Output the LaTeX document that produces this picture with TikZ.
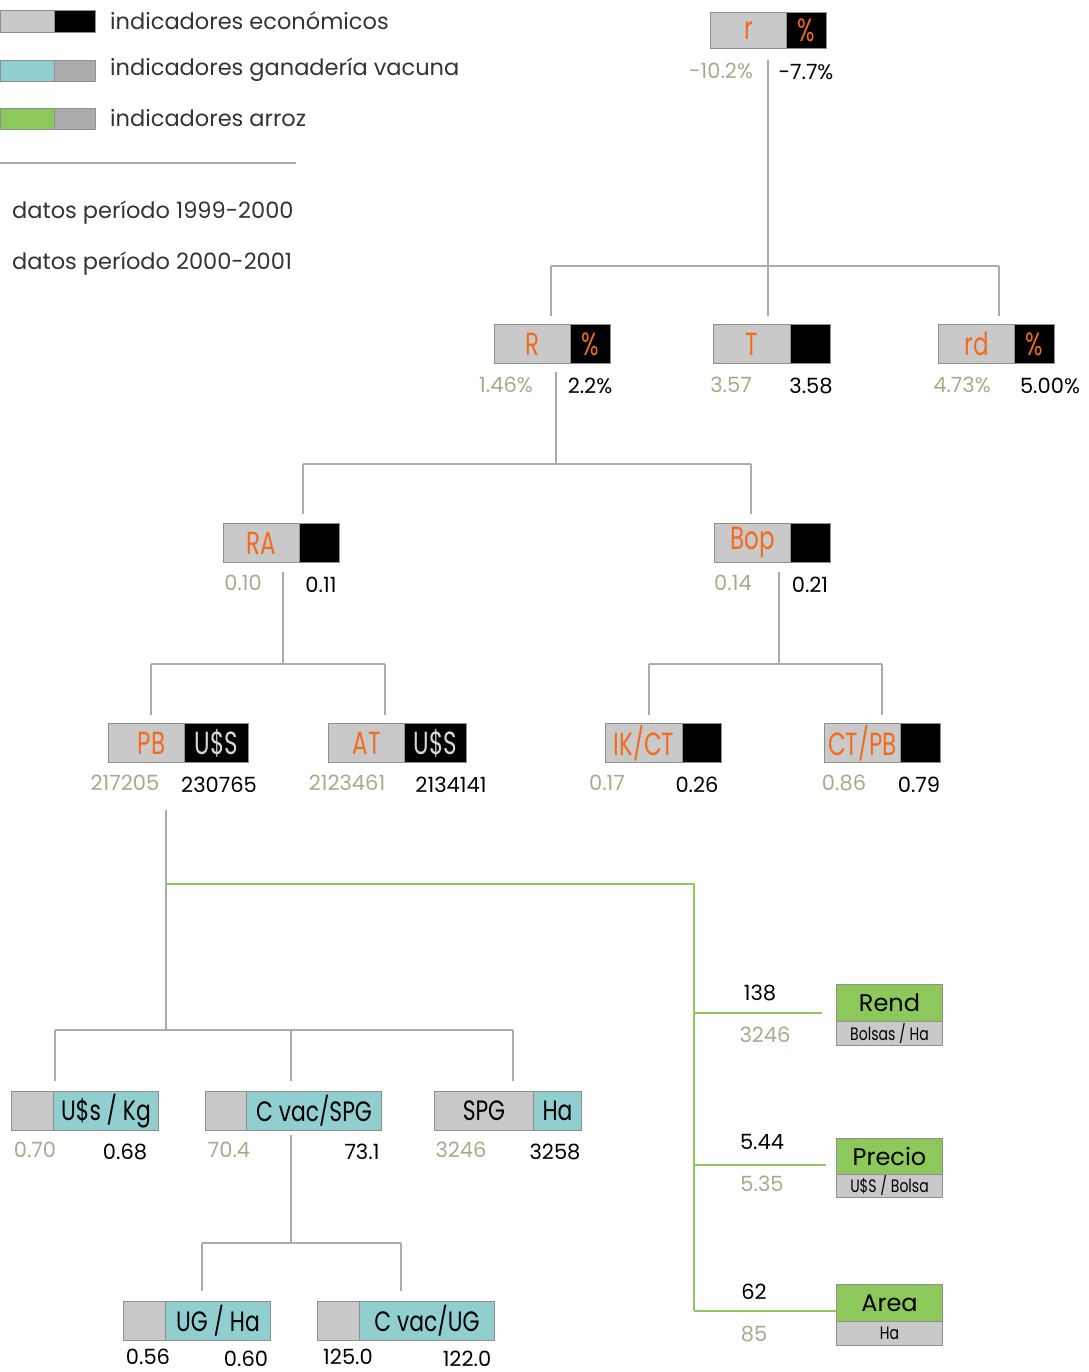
\documentclass[tikz,border=0pt]{standalone}
\usepackage{fontspec}
\setmainfont{Poppins}
\newfontfamily\cond[FakeStretch=0.78]{Poppins}
\newfontfamily\condlab[FakeStretch=0.72]{Poppins}
\newfontfamily\condusd[FakeStretch=0.72]{Poppins}
\definecolor{lgray}{HTML}{C9C9C9}
\definecolor{mgray}{HTML}{ABABAB}
\definecolor{bgray}{HTML}{8F8F8F}
\definecolor{lcyan}{HTML}{90CED0}
\definecolor{lgreen}{HTML}{8DC85A}
\definecolor{orng}{HTML}{F26B1D}
\definecolor{olive}{HTML}{A9AA8A}
\definecolor{dgray}{HTML}{333333}
\definecolor{usgray}{HTML}{D8D8D8}
\begin{document}
\begin{tikzpicture}[x=1pt,y=-1pt,
  part/.style={draw=bgray, line width=1pt, anchor=north west, inner sep=0pt, minimum height=39pt},
  lab/.style={font=\condlab\fontsize{32}{34}\selectfont, text=orng},
  blab/.style={font=\cond\fontsize{28}{30}\selectfont, text=black},
  usd/.style={font=\condusd\fontsize{32}{34}\selectfont, text=usgray},
  glab/.style={font=\fontsize{24}{26}\selectfont, text=black},
  sub/.style={font=\cond\fontsize{18}{20}\selectfont, text=black},
  old/.style={font=\fontsize{21}{24}\selectfont, text=olive, inner sep=0pt},
  new/.style={font=\fontsize{21}{24}\selectfont, text=black, inner sep=0pt},
  legtext/.style={font=\fontsize{22.5}{26}\selectfont, text=dgray, anchor=west, inner sep=0pt},
  conn/.style={draw=mgray, line width=2pt},
  gconn/.style={draw=lgreen, line width=2pt}
]
\useasboundingbox (0,0) rectangle (1088,1372);

% ---------- legend ----------
\node[part, fill=lgray, minimum width=54pt, minimum height=22pt] (lg1a) at (0,10) {};
\node[part, fill=black, minimum width=41pt, minimum height=22pt] (lg1b) at (54,10) {};
\node[legtext] (lt1) at (110,21) {indicadores económicos};
\node[part, fill=lcyan, minimum width=54pt, minimum height=21pt] (lg2a) at (0,60) {};
\node[part, fill=mgray, minimum width=41pt, minimum height=21pt] (lg2b) at (54,60) {};
\node[legtext] (lt2) at (110,70) {indicadores ganadería vacuna};
\node[part, fill=lgreen, minimum width=54pt, minimum height=21pt] (lg3a) at (0,108) {};
\node[part, fill=mgray, minimum width=41pt, minimum height=21pt] (lg3b) at (54,108) {};
\node[legtext] (lt3) at (110,118) {indicadores arroz};
\coordinate (ls1) at (0,163);
\coordinate (ls2) at (296,163);
\draw[draw=mgray, line width=1.2pt] (ls1) -- (ls2);
\node[legtext] (lt4) at (12,213) {datos período 1999-2000};
\node[legtext] (lt5) at (12,264) {datos período 2000-2001};

% ---------- r ----------
\node[part, fill=lgray, minimum width=76pt, minimum height=36pt, lab] (rL) at (710,12) {r};
\node[part, fill=black, minimum width=40pt, minimum height=36pt, lab] (rR) at (786,12) {\%};
\node[old] (r1) at (721,71) {-10.2\%};
\node[new] (r2) at (806,72) {-7.7\%};
\coordinate (rout) at (768,60);
\coordinate (j1) at (768,266);
\coordinate (j1a) at (551,266);
\coordinate (j1c) at (999,266);

% ---------- level 2 ----------
\node[part, fill=lgray, minimum width=76pt, lab] (RL) at (494,324) {R};
\node[part, fill=black, minimum width=40pt, lab] (RR) at (570,324) {\%};
\node[old] (R1) at (506,385) {1.46\%};
\node[new] (R2) at (590,386) {2.2\%};

\node[part, fill=lgray, minimum width=77pt, lab] (TL) at (713,324) {T};
\node[part, fill=black, minimum width=40pt] (TR) at (790,324) {};
\node[old] (T1) at (731,385) {3.57};
\node[new] (T2) at (811,386) {3.58};

\node[part, fill=lgray, minimum width=76pt, lab] (rdL) at (938,324) {rd};
\node[part, fill=black, minimum width=40pt, lab] (rdR) at (1014,324) {\%};
\node[old] (rd1) at (962,385) {4.73\%};
\node[new] (rd2) at (1050,386) {5.00\%};

\draw[conn] (rout) -- (j1);
\draw[conn] (j1a) -- (j1c);
\draw[conn, shorten >=8pt] (j1a) -- (j1a |- RL.north);
\draw[conn, shorten >=8pt] (j1) -- (j1 |- TL.north);
\draw[conn, shorten >=8pt] (j1c) -- (j1c |- rdL.north);

\coordinate (Rout) at (556,372);
\coordinate (j2) at (556,464);
\coordinate (j2a) at (303,464);
\coordinate (j2b) at (751,464);

% ---------- level 3 ----------
\node[part, fill=lgray, minimum width=76pt, lab] (RAL) at (223,523) {RA};
\node[part, fill=black, minimum width=40pt] (RAR) at (299,523) {};
\node[old] (RA1) at (243,583) {0.10};
\node[new] (RA2) at (321,585) {0.11};

\node[part, fill=lgray, minimum width=76pt, lab] (BopL) at (714,523) {Bop};
\node[part, fill=black, minimum width=40pt] (BopR) at (790,523) {};
\node[old] (Bop1) at (733,583) {0.14};
\node[new] (Bop2) at (810,585) {0.21};

\draw[conn] (Rout) -- (j2);
\draw[conn] (j2a) -- (j2b);
\draw[conn, shorten >=9pt] (j2a) -- (j2a |- RAL.north);
\draw[conn, shorten >=9pt] (j2b) -- (j2b |- BopL.north);

\coordinate (RAout) at (283,572);
\coordinate (j3) at (283,664);
\coordinate (j3a) at (151,664);
\coordinate (j3b) at (385,664);
\coordinate (Bopout) at (779,572);
\coordinate (j4) at (779,664);
\coordinate (j4a) at (649,664);
\coordinate (j4b) at (882,664);

% ---------- level 4 ----------
\node[part, fill=lgray, minimum width=76pt, lab] (PBL) at (108,723) {\hspace*{10pt}PB};
\node[part, fill=black, minimum width=64pt, usd] (PBR) at (184,723) {U\$S};
\node[old] (PB1) at (125,783) {217205};
\node[new] (PB2) at (219,785) {230765};

\node[part, fill=lgray, minimum width=76pt, lab] (ATL) at (328,723) {AT};
\node[part, fill=black, minimum width=62pt, usd] (ATR) at (404,723) {U\$S};
\node[old] (AT1) at (347,783) {2123461};
\node[new] (AT2) at (451,785) {2134141};

\node[part, fill=lgray, minimum width=77pt, lab] (IKL) at (605,723) {IK/CT};
\node[part, fill=black, minimum width=39pt] (IKR) at (682,723) {};
\node[old] (IK1) at (607,783) {0.17};
\node[new] (IK2) at (697,785) {0.26};

\node[part, fill=lgray, minimum width=76pt, lab] (CTL) at (824,723) {CT/PB};
\node[part, fill=black, minimum width=40pt] (CTR) at (900,723) {};
\node[old] (CT1) at (844,783) {0.86};
\node[new] (CT2) at (919,785) {0.79};

\draw[conn] (RAout) -- (j3);
\draw[conn] (j3a) -- (j3b);
\draw[conn, shorten >=8pt] (j3a) -- (j3a |- PBL.north);
\draw[conn, shorten >=8pt] (j3b) -- (j3b |- ATL.north);
\draw[conn] (Bopout) -- (j4);
\draw[conn] (j4a) -- (j4b);
\draw[conn, shorten >=8pt] (j4a) -- (j4a |- IKL.north);
\draw[conn, shorten >=8pt] (j4b) -- (j4b |- CTL.north);

% ---------- livestock branch ----------
\coordinate (PBout) at (166,810);
\coordinate (j5) at (166,1030);
\coordinate (j5a) at (55,1030);
\coordinate (j5m) at (291,1030);
\coordinate (j5b) at (513,1030);

\node[part, fill=lgray, minimum width=42pt] (UKL) at (11,1091) {};
\node[part, fill=lcyan, minimum width=105pt, blab] (UKR) at (53,1091) {U\$s / Kg};
\node[old] (UK1) at (35,1150) {0.70};
\node[new] (UK2) at (125,1152) {0.68};

\node[part, fill=lgray, minimum width=41pt] (CSL) at (205,1091) {};
\node[part, fill=lcyan, minimum width=135pt, blab] (CSR) at (246,1091) {C vac/SPG};
\node[old] (CS1) at (229,1150) {70.4};
\node[new] (CS2) at (362,1152) {73.1};

\node[part, fill=lgray, minimum width=99pt, blab] (SPL) at (434,1091) {SPG};
\node[part, fill=lcyan, minimum width=48pt, blab] (SPR) at (533,1091) {Ha};
\node[old] (SP1) at (461,1150) {3246};
\node[new] (SP2) at (555,1152) {3258};

\draw[conn] (PBout) -- (j5);
\draw[conn] (j5a) -- (j5b);
\draw[conn, shorten >=10pt] (j5a) -- (j5a |- UKL.north);
\draw[conn, shorten >=10pt] (j5m) -- (j5m |- CSL.north);
\draw[conn, shorten >=10pt] (j5b) -- (j5b |- SPL.north);

\coordinate (CSout) at (291,1135);
\coordinate (j6) at (291,1243);
\coordinate (j6a) at (202,1243);
\coordinate (j6b) at (401,1243);

\node[part, fill=lgray, minimum width=42pt] (UGL) at (123,1301) {};
\node[part, fill=lcyan, minimum width=105pt, blab] (UGR) at (165,1301) {UG / Ha};
\node[new] (UG1) at (148,1357) {0.56};
\node[new] (UG2) at (246,1359) {0.60};

\node[part, fill=lgray, minimum width=42pt] (CUL) at (317,1301) {};
\node[part, fill=lcyan, minimum width=135pt, blab] (CUR) at (359,1301) {C vac/UG};
\node[new] (CU1) at (348,1357) {125.0};
\node[new] (CU2) at (467,1359) {122.0};

\draw[conn] (CSout) -- (j6);
\draw[conn] (j6a) -- (j6b);
\draw[conn, shorten >=10pt] (j6a) -- (j6a |- UGL.north);
\draw[conn, shorten >=10pt] (j6b) -- (j6b |- CUL.north);

% ---------- rice branch ----------
\node[part, fill=lgreen, minimum width=106pt, minimum height=37pt, glab] (RendT) at (836,984) {Rend};
\node[part, fill=lgray, minimum width=106pt, minimum height=24pt, sub] (RendB) at (836,1021) {Bolsas / Ha};
\node[new] (Rend1) at (760,993) {138};
\node[old] (Rend2) at (765,1035) {3246};

\node[part, fill=lgreen, minimum width=106pt, minimum height=36pt, glab] (PrT) at (836,1138) {Precio};
\node[part, fill=lgray, minimum width=106pt, minimum height=23pt, sub] (PrB) at (836,1174) {U\$S / Bolsa};
\node[new] (Pr1) at (762,1142) {5.44};
\node[old] (Pr2) at (762,1184) {5.35};

\node[part, fill=lgreen, minimum width=106pt, minimum height=37pt, glab] (ArT) at (836,1284) {Area};
\node[part, fill=lgray, minimum width=106pt, minimum height=24pt, sub] (ArB) at (836,1321) {Ha};
\node[new] (Ar1) at (754,1292) {62};
\node[old] (Ar2) at (754,1334) {85};

\coordinate (g0) at (166,884);
\coordinate (g1) at (694,884);
\coordinate (g2) at (694,1013);
\coordinate (g3) at (694,1165);
\coordinate (g4) at (694,1311);
\draw[gconn] (g0) -- (g1) -- (g4);
\draw[gconn, shorten >=14pt] (g2) -- (g2 -| RendT.west);
\draw[gconn, shorten >=10pt] (g3) -- (g3 -| PrT.west);
\draw[gconn] (g4) -- (g4 -| ArT.west);
\end{tikzpicture}
\end{document}
